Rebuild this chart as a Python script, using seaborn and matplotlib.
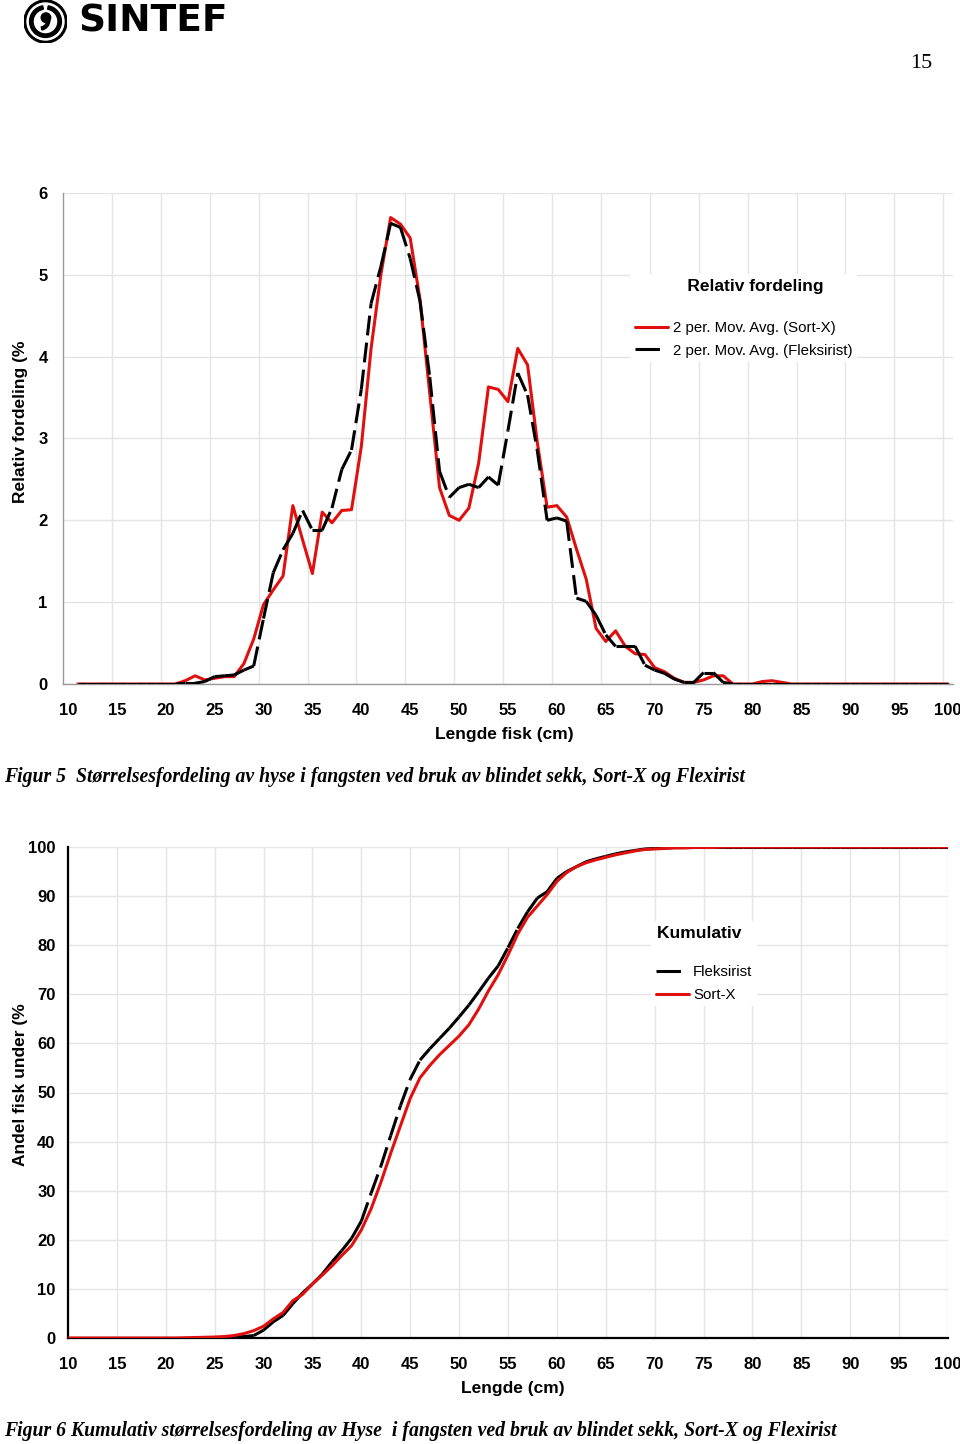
import numpy as np
import pandas as pd
import matplotlib
matplotlib.use("Agg")
import matplotlib.pyplot as plt
import seaborn as sns
from matplotlib.collections import LineCollection
from matplotlib.lines import Line2D
from matplotlib.patches import Circle, Wedge

# Figur 5: relativ fordeling (2 per. glidende snitt), lengde 11..100 cm
lengths_rel = np.arange(11, 101)
sortx_rel = [
    0, 0, 0, 0, 0, 0, 0, 0, 0, 0,
    0, 0.04, 0.10, 0.05, 0.07, 0.09, 0.09, 0.25, 0.55, 0.97,
    1.15, 1.32, 2.18, 1.76, 1.35, 2.10, 1.97, 2.12, 2.13, 2.90,
    4.10, 5.00, 5.70, 5.62, 5.45, 4.70, 3.55, 2.40, 2.06, 2.00,
    2.15, 2.70, 3.63, 3.60, 3.45, 4.10, 3.90, 2.95, 2.16, 2.18,
    2.04, 1.65, 1.28, 0.68, 0.52, 0.65, 0.46, 0.37, 0.36, 0.20,
    0.15, 0.07, 0.02, 0.02, 0.05, 0.10, 0.10, 0, 0, 0,
    0.03, 0.04, 0.02, 0, 0, 0, 0, 0, 0, 0,
    0, 0, 0, 0, 0, 0, 0, 0, 0, 0,
]
fleks_rel = [
    0, 0, 0, 0, 0, 0, 0, 0, 0, 0,
    0, 0.01, 0.01, 0.03, 0.09, 0.10, 0.11, 0.17, 0.22, 0.80,
    1.36, 1.64, 1.84, 2.12, 1.88, 1.88, 2.15, 2.62, 2.86, 3.60,
    4.65, 5.10, 5.63, 5.58, 5.20, 4.68, 3.75, 2.60, 2.28, 2.40,
    2.44, 2.40, 2.53, 2.43, 3.10, 3.80, 3.53, 2.85, 2.00, 2.03,
    1.99, 1.05, 1.01, 0.84, 0.60, 0.46, 0.46, 0.46, 0.23, 0.17,
    0.13, 0.06, 0.02, 0.02, 0.14, 0.14, 0.02, 0, 0, 0,
    0, 0, 0, 0, 0, 0, 0, 0, 0, 0,
    0, 0, 0, 0, 0, 0, 0, 0, 0, 0,
]

# Figur 6: kumulativ fordeling, lengde 10..100 cm
lengths_cum = np.arange(10, 101)
sortx_cum = [
    0, 0, 0, 0, 0, 0, 0, 0, 0, 0,
    0, 0, 0.05, 0.1, 0.15, 0.2, 0.3, 0.5, 0.9, 1.5,
    2.4, 3.9, 5.2, 7.6, 8.9, 11.0, 12.8, 14.7, 16.8, 18.8,
    22.0, 26.3, 31.7, 37.6, 43.2, 48.8, 53.0, 55.5, 57.7, 59.6,
    61.5, 63.8, 67.0, 70.7, 74.0, 78.0, 82.3, 85.7, 88.0, 90.3,
    93.0, 94.8, 96.0, 96.8, 97.4, 97.9, 98.4, 98.8, 99.2, 99.5,
    99.6, 99.7, 99.8, 99.8, 99.9, 99.9, 99.9, 100, 100, 100,
    100, 100, 100, 100, 100, 100, 100, 100, 100, 100,
    100, 100, 100, 100, 100, 100, 100, 100, 100, 100,
    100,
]
fleks_cum = [
    0, 0, 0, 0, 0, 0, 0, 0, 0, 0,
    0, 0, 0, 0, 0, 0.05, 0.1, 0.2, 0.3, 0.5,
    1.6, 3.3, 4.6, 7.0, 9.2, 11.0, 13.0, 15.5, 17.8, 20.3,
    23.8, 29.5, 35.0, 41.2, 47.3, 52.7, 56.6, 58.9, 61.0, 63.1,
    65.4, 67.8, 70.5, 73.3, 75.8, 79.5, 83.4, 86.8, 89.6, 90.9,
    93.6, 95.0, 96.0, 97.0, 97.6, 98.1, 98.6, 99.0, 99.3, 99.6,
    99.7, 99.8, 99.9, 100, 100, 100, 100, 100, 100, 100,
    100, 100, 100, 100, 100, 100, 100, 100, 100, 100,
    100, 100, 100, 100, 100, 100, 100, 100, 100, 100,
    100,
]

RED = "#e0100f"
GRID = "#e4e4e4"
LW = 2.2
DASH = (6.5, 2.4)

sns.set_style("white")
plt.rcParams["font.family"] = ["Liberation Sans", "DejaVu Sans"]
plt.rcParams["text.color"] = "black"
plt.rcParams["axes.labelcolor"] = "black"
plt.rcParams["xtick.color"] = "black"
plt.rcParams["ytick.color"] = "black"

W, H = 960, 1444
fig = plt.figure(figsize=(W / 100, H / 100), dpi=100)


def fx(px):
    return px / W


def fy(py):
    return 1 - py / H


def dashed_line(ax, x, y, zorder):
    # Excel starter strekmonsteret pa nytt for hvert linjestykke
    pts = np.column_stack([x, y])
    segs = np.stack([pts[:-1], pts[1:]], axis=1)
    lc = LineCollection(segs, colors="black", linewidths=LW,
                        linestyles=[(0, DASH)], capstyle="butt", zorder=zorder)
    ax.add_collection(lc)


# ---------------- Figur 5 ----------------
ax1 = fig.add_axes([fx(63), fy(684), fx(953) - fx(63), fy(193) - fy(684)])
sns.lineplot(x=lengths_rel, y=sortx_rel, ax=ax1, color=RED, lw=LW, zorder=2)
dashed_line(ax1, lengths_rel, fleks_rel, zorder=3)

ax1.set_xlim(9.5, 100.5)
ax1.set_ylim(0, 6)
ax1.set_xticks(np.arange(10, 101, 5))
ax1.set_xticks(np.arange(14.5, 100, 5), minor=True)
ax1.set_yticks(range(0, 7))
ax1.tick_params(axis="x", which="major", length=0, pad=13.5,
                labelsize=12, labelcolor="black")
ax1.tick_params(axis="x", which="minor", length=3, color="#999999", direction="out")
ax1.tick_params(axis="y", length=3, color="#999999", direction="out", pad=8,
                labelsize=12, labelcolor="black")
for lab in ax1.get_xticklabels() + ax1.get_yticklabels():
    lab.set_fontweight("bold")
ax1.grid(axis="x", which="minor", color=GRID, lw=1)
ax1.grid(axis="y", which="major", color=GRID, lw=1)
ax1.set_axisbelow(True)
for s in ["top", "right"]:
    ax1.spines[s].set_visible(False)
for s in ["left", "bottom"]:
    ax1.spines[s].set_color("#999999")
    ax1.spines[s].set_linewidth(1)
ax1.set_xlabel("")
ax1.set_ylabel("")

h_red = Line2D([], [], color=RED, lw=LW)
h_blk = Line2D([], [], color="black", lw=LW, dashes=(8, 6))
leg1 = ax1.legend([h_red, h_blk],
                  ["2 per. Mov. Avg. (Sort-X)", "2 per. Mov. Avg. (Fleksirist)"],
                  title="     Relativ fordeling", loc="upper left",
                  bbox_to_anchor=(fx(630), fy(274)), bbox_transform=fig.transFigure,
                  frameon=True, facecolor="white", edgecolor="none", framealpha=1,
                  fancybox=False, fontsize=10.8,
                  title_fontproperties={"weight": "bold", "size": 12.5},
                  handlelength=2.2, handletextpad=0.35, labelspacing=0.55,
                  borderpad=0.3, borderaxespad=0)
leg1._legend_box.sep = 20

fig.text(fx(504), fy(734), "Lengde fisk (cm)", ha="center", va="center",
         fontsize=12.5, fontweight="bold")
fig.text(fx(21), fy(422), "Relativ fordeling (%", ha="center", va="center",
         rotation=90, fontsize=12.5, fontweight="bold")

# ---------------- Figur 6 ----------------
ax2 = fig.add_axes([fx(68), fy(1338), fx(948) - fx(68), fy(847) - fy(1338)])
dashed_line(ax2, lengths_cum, fleks_cum, zorder=2)
sns.lineplot(x=lengths_cum, y=sortx_cum, ax=ax2, color=RED, lw=LW, zorder=3)

ax2.set_xlim(10, 100)
ax2.set_ylim(0, 100)
ax2.set_xticks(np.arange(10, 101, 5))
ax2.set_yticks(np.arange(0, 101, 10))
ax2.tick_params(axis="both", direction="inout", length=8, width=1.5,
                color="black", labelsize=12, labelcolor="black")
ax2.tick_params(axis="x", pad=10)
ax2.tick_params(axis="y", pad=5)
for lab in ax2.get_xticklabels() + ax2.get_yticklabels():
    lab.set_fontweight("bold")
ax2.grid(True, color=GRID, lw=1)
ax2.set_axisbelow(True)
for s in ["top", "right"]:
    ax2.spines[s].set_visible(False)
for s in ["left", "bottom"]:
    ax2.spines[s].set_color("black")
    ax2.spines[s].set_linewidth(1.6)
ax2.set_xlabel("")
ax2.set_ylabel("")

leg2 = ax2.legend([h_blk, h_red], ["Fleksirist", "Sort-X"],
                  title="Kumulativ  ", loc="upper left",
                  bbox_to_anchor=(fx(651), fy(921)), bbox_transform=fig.transFigure,
                  frameon=True, facecolor="white", edgecolor="none", framealpha=1,
                  fancybox=False, fontsize=10.8,
                  title_fontproperties={"weight": "bold", "size": 12.5},
                  handlelength=2.2, handletextpad=0.3, labelspacing=0.55,
                  borderpad=0.3, borderaxespad=0)
leg2._legend_box.sep = 18

fig.text(fx(513), fy(1388), "Lengde (cm)", ha="center", va="center",
         fontsize=12.5, fontweight="bold")
fig.text(fx(21), fy(1085), "Andel fisk under (%", ha="center", va="center",
         rotation=90, fontsize=12.5, fontweight="bold")

# ---------------- Tekst pa siden ----------------
serif = ["Liberation Serif", "DejaVu Serif"]
fig.text(fx(4), fy(777),
         "Figur 5  Størrelsesfordeling av hyse i fangsten ved bruk av blindet sekk, Sort-X og Flexirist",
         ha="left", va="center", family=serif, fontsize=14.2, fontweight="bold",
         style="italic")
fig.text(fx(4), fy(1431),
         "Figur 6 Kumulativ størrelsesfordeling av Hyse  i fangsten ved bruk av blindet sekk, Sort-X og Flexirist",
         ha="left", va="center", family=serif, fontsize=14.2, fontweight="bold",
         style="italic")
fig.text(fx(921), fy(63), "15", ha="center", va="center", family=serif, fontsize=16)

# SINTEF-logo
fig.text(fx(78), fy(22), "SINTEF", ha="left", va="center",
         family=["DejaVu Sans"], fontsize=27, fontweight="heavy", color="black")
logo = fig.add_axes([fx(24), fy(43), 43 / W, 43 / H])
logo.set_xlim(-1, 1)
logo.set_ylim(-1, 1)
logo.set_aspect("equal")
logo.axis("off")
logo.add_patch(Circle((0, 0), 1.0, color="black"))
logo.add_patch(Circle((0, 0), 0.86, color="white"))
logo.add_patch(Wedge((0, 0), 0.74, 100, 440, width=0.16, color="black"))
logo.add_patch(Circle((0.02, 0.18), 0.22, color="black"))
logo.add_patch(Wedge((-0.25, 0.05), 0.45, -80, 0, width=0.14, color="black"))

fig.savefig("out.png", dpi=100)
